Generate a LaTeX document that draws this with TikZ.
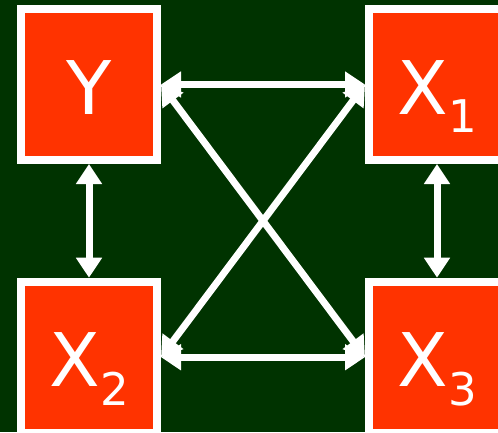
\documentclass[tikz,border=0pt]{standalone}
\usepackage{fontspec}
\setmainfont{DejaVu Sans}
\usetikzlibrary{arrows.meta}
\definecolor{bggreen}{RGB}{0,51,0}
\definecolor{boxred}{RGB}{255,51,0}
\newcommand{\subtxt}[1]{\raisebox{-18.7pt}{\fontsize{45}{45}\selectfont #1}}
\begin{document}
\begin{tikzpicture}[x=1pt,y=-1pt,
  varbox/.style={draw=white, fill=boxred, line width=8pt, minimum width=136pt, minimum height=151pt,
    inner sep=0pt, text=white, font=\fontsize{74}{74}\selectfont, text height=59pt, text depth=0pt, align=center},
  link/.style={draw=white, line width=7pt, {Triangle[width=25pt,length=20pt]}-{Triangle[width=25pt,length=20pt]}}]
\useasboundingbox (0,0) rectangle (498,432);
\clip (0,0) rectangle (498,432);
\fill[bggreen] (0,0) rectangle (498,432);
\node[varbox] (Y)  at (89,84.5)  {Y};
\node[varbox] (X1) at (437,84.5) {X\subtxt{1}};
\node[varbox] (X2) at (89,357.2) {X\subtxt{2}};
\node[varbox] (X3) at (437,357.2) {X\subtxt{3}};
\draw[link] (Y.east) -- (X1.west);
\draw[link] (X2.east) -- (X3.west);
\draw[link] (Y.south) -- (X2.north);
\draw[link] (X1.south) -- (X3.north);
\draw[link] (Y.east) -- (X3.west);
\draw[link] (X1.west) -- (X2.east);
\end{tikzpicture}
\end{document}
